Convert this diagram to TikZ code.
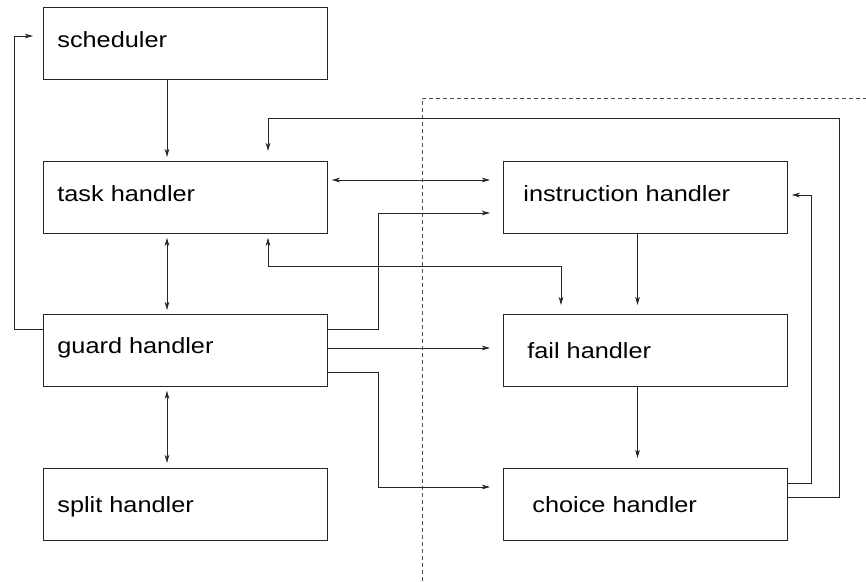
\documentclass[tikz,border=0pt]{standalone}
\usepackage{fontspec}
\setmainfont{Liberation Sans}[FakeStretch=1.15]
\usetikzlibrary{arrows.meta}
\begin{document}
\begin{tikzpicture}[x=1pt,y=-1pt,
  line width=0.75pt,
  box/.style={draw=black!85, rectangle, inner sep=0pt, anchor=north west,
              minimum width=284pt, minimum height=72pt},
  lbl/.style={anchor=base west, inner sep=0pt, font=\fontsize{22}{26}\selectfont},
  wire/.style={draw=black!85},
  tip/.style={wire, -{Stealth[length=8pt,width=4.5pt,inset=2pt]}},
  both/.style={wire, {Stealth[length=8pt,width=4.5pt,inset=2pt]}-{Stealth[length=8pt,width=4.5pt,inset=2pt]}},
  sep/.style={draw=black!70, dash pattern=on 4pt off 3pt}]

\useasboundingbox (0,0) rectangle (866,581);

% left column of handlers
\node[box] (sched) at (43,7)   {};
\node[box] (task)  at (43,161) {};
\node[box] (guard) at (43,314) {};
\node[box] (split) at (43,468) {};
% right column of handlers
\node[box] (instr)  at (503,161) {};
\node[box] (fail)   at (503,314) {};
\node[box] (choice) at (503,468) {};

% box titles
\node[lbl] (schedT)  at (57,47)   {scheduler};
\node[lbl] (taskT)   at (57,201)  {task handler};
\node[lbl] (guardT)  at (57,353)  {guard handler};
\node[lbl] (splitT)  at (57,512)  {split handler};
\node[lbl] (instrT)  at (523,201) {instruction handler};
\node[lbl] (failT)   at (527,358) {fail handler};
\node[lbl] (choiceT) at (532,512) {choice handler};

% column and routing points
\coordinate (cA)  at (167,0);
\coordinate (cB)  at (637.5,0);
\coordinate (r1)  at (0,180);
\coordinate (r2)  at (0,348);
\coordinate (j1)  at (378,329);
\coordinate (j2)  at (378,213);
\coordinate (j3)  at (378,372);
\coordinate (j4)  at (378,487);
\coordinate (j5)  at (14,329);
\coordinate (j6)  at (14,36);
\coordinate (j7)  at (268,266);
\coordinate (j8)  at (561,266);
\coordinate (j9)  at (811,483);
\coordinate (j10) at (811,195);
\coordinate (j11) at (839,497);
\coordinate (j12) at (839,118);
\coordinate (j13) at (268,118);

% separator between the two halves
\draw[sep] (422,581) -- (422,98) -- (866,98);

% vertical links in the left column
\draw[tip, shorten >=4pt] (sched.south -| cA) -- (task.north -| cA);
\draw[both, shorten <=4pt, shorten >=4pt] (task.south -| cA) -- (guard.north -| cA);
\draw[both, shorten <=4pt, shorten >=5pt] (guard.south -| cA) -- (split.north -| cA);

% task handler <-> instruction handler
\draw[both, shorten <=4pt, shorten >=13pt] (task.east |- r1) -- (instr.west |- r1);

% guard handler outputs
\draw[tip, shorten >=13pt] (guard.east |- j1) -- (j1) -- (j2) -- (instr.west |- j2);
\draw[tip, shorten >=13pt] (guard.east |- r2) -- (fail.west |- r2);
\draw[tip, shorten >=13pt] (guard.east |- j3) -- (j3) -- (j4) -- (choice.west |- j4);
\draw[tip, shorten >=10pt] (guard.west |- j5) -- (j5) -- (j6) -- (sched.west |- j6);

% task handler <-> fail handler
\draw[both, shorten <=4pt, shorten >=9pt] (task.south -| j7) -- (j7) -- (j8) -- (fail.north -| j8);

% right column chain
\draw[tip, shorten >=9pt] (instr.south -| cB) -- (fail.north -| cB);
\draw[tip, shorten >=10pt] (fail.south -| cB) -- (choice.north -| cB);

% feedback from the choice handler
\draw[tip, shorten >=4pt] (choice.east |- j9) -- (j9) -- (j10) -- (instr.east |- j10);
\draw[tip, shorten >=10pt] (choice.east |- j11) -- (j11) -- (j12) -- (j13) -- (task.north -| j13);

\end{tikzpicture}
\end{document}
